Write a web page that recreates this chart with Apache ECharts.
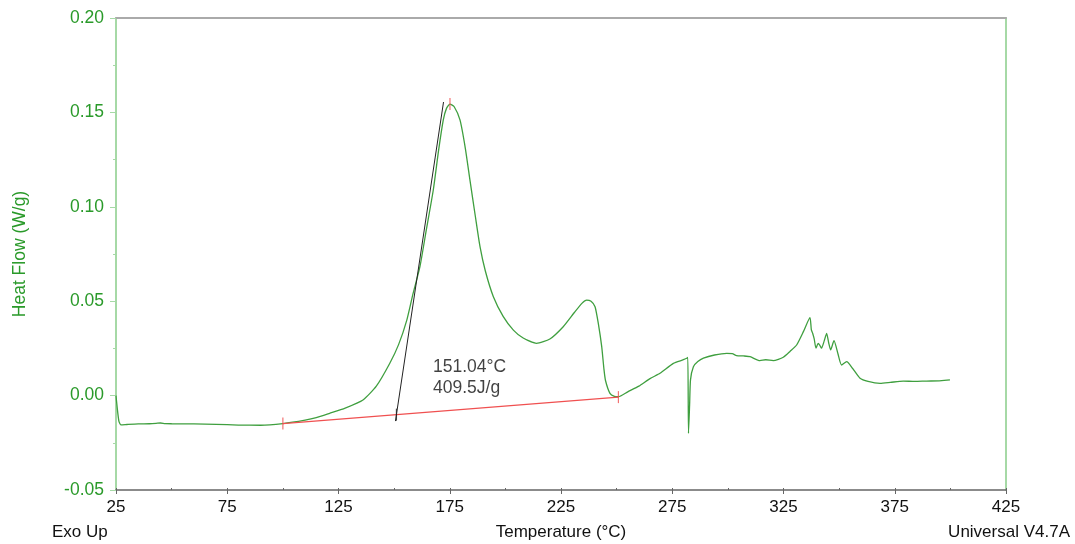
<!DOCTYPE html>
<html>
<head>
<meta charset="utf-8">
<script src="https://cdn.jsdelivr.net/npm/echarts@6/dist/echarts.min.js"></script>
<style>html,body{margin:0;padding:0;background:#fff}#c{width:1075px;height:544px}</style>
</head>
<body>
<div id="c"></div>
<script>
// Temperature (°C) / Heat flow (W/g) pairs
var temps = [25,25.5,26.3,27.2,30,35,40,43,45,47,50,60,70,80,90,100,110,115,121,128,136,142,148,152,155.7,158.5,161.6,164.5,167.6,170,172.1,173.5,175.1,177,179.6,182,184.1,186.5,188.6,191,194.6,199,203.6,208,214,220,226,231,234.5,236.5,238.5,240.3,241.8,243.3,244.3,245,247,249,250.8,255,260,265,269.5,275.5,280,281.5,282,282.3,282.8,283.2,284.5,286.5,289,294,299.5,302,303.9,307,310,314.4,317,320.4,324.9,328,330.9,334,336.9,337.5,338.1,338.8,339.6,340.6,341.4,342.1,343.3,344.4,345.3,346.2,347.7,349.5,351.1,353.4,356,359.4,363,368.4,373,378.8,384,389.3,395,399.8];
var heatFlow = [0.000,-0.006,-0.0135,-0.0155,-0.0153,-0.0150,-0.0149,-0.0147,-0.0145,-0.0148,-0.0149,-0.0150,-0.0152,-0.0156,-0.0157,-0.0148,-0.0130,-0.0117,-0.0094,-0.0066,-0.0023,0.0050,0.0170,0.0270,0.0400,0.0540,0.0683,0.0880,0.1089,0.1300,0.1460,0.1520,0.1544,0.1530,0.1460,0.1310,0.1140,0.0950,0.0789,0.0660,0.0524,0.0420,0.0347,0.0305,0.0277,0.0300,0.0365,0.0440,0.0490,0.0506,0.0500,0.0471,0.0380,0.0259,0.0140,0.0080,0.0012,-0.0004,-0.0006,0.0020,0.0050,0.0090,0.0118,0.0171,0.0190,0.0198,0.0202,-0.0200,-0.0050,0.0083,0.0153,0.0180,0.0198,0.0215,0.0224,0.0222,0.0212,0.0210,0.0206,0.0185,0.0190,0.0185,0.0203,0.0235,0.0268,0.0340,0.0413,0.0350,0.0330,0.0300,0.0251,0.0277,0.0265,0.0251,0.0290,0.0330,0.0280,0.0242,0.0291,0.0220,0.0162,0.0180,0.0145,0.0092,0.0075,0.0065,0.0070,0.0077,0.0075,0.0077,0.0078,0.0083];
var baselinePts = [[100,-0.0148],[250.8,-0.0008]];
var tangentPts = [[150.6,-0.0135],[172.2,0.1555]];
var redTicks = [[100,-0.0148],[250.8,-0.0008],[175.1,0.1544]];
var onsetTick = [[151.04,-0.0101]];
var annotation = {pos:[167.5,0.0095], text:'151.04°C\n409.5J/g'};
var xTicks = {min:25, max:425, step:25};
var yTicks = {min:-0.05, max:0.20, step:0.05};

var curve = temps.map(function(t,i){return [t, heatFlow[i]];});
var green = '#2a9a2a';
var FONT = 'Liberation Sans, Arial';
var chart = echarts.init(document.getElementById('c'), null, {renderer:'canvas'});
chart.setOption({
  animation:false,
  backgroundColor:'#fff',
  grid:{left:116, right:69, top:18, bottom:54, containLabel:false, outerBoundsMode:'none'},
  xAxis:[{
    type:'value', min:xTicks.min, max:xTicks.max, interval:xTicks.step*2,
    axisLine:{onZero:false, lineStyle:{color:'#666', width:1.5}},
    axisTick:{show:true, length:4, lineStyle:{color:'#666'}},
    splitLine:{show:false},
    axisLabel:{margin:9, color:'#111', fontFamily:FONT, fontSize:17},
    name:'Temperature (°C)', nameLocation:'middle', nameGap:34,
    nameTextStyle:{color:'#111', fontFamily:FONT, fontSize:17}
  },{
    type:'value', min:xTicks.min, max:xTicks.max, interval:xTicks.step, position:'bottom',
    axisLine:{show:false, onZero:false}, axisLabel:{show:false}, splitLine:{show:false},
    axisTick:{show:true, inside:true, length:2, lineStyle:{color:'#666'}}
  },{
    type:'value', min:xTicks.min, max:xTicks.max, position:'top',
    axisLine:{show:true, onZero:false, lineStyle:{color:'#aaa', width:2}},
    axisLabel:{show:false}, axisTick:{show:false}, splitLine:{show:false}
  }],
  yAxis:[{
    type:'value', min:yTicks.min, max:yTicks.max, interval:yTicks.step,
    axisLine:{show:true, onZero:false, lineStyle:{color:'#a6d9a6', width:2}},
    axisTick:{show:true, length:6, lineStyle:{color:'#a6d9a6'}},
    minorTick:{show:true, splitNumber:2, length:3, lineStyle:{color:'#a6d9a6'}},
    splitLine:{show:false},
    axisLabel:{margin:12, color:green, fontFamily:FONT, fontSize:17.5,
      formatter:function(v){return v.toFixed(2);}},
    name:'Heat Flow (W/g)', nameLocation:'middle', nameGap:87,
    nameTextStyle:{color:green, fontFamily:FONT, fontSize:17.5}
  },{
    type:'value', min:yTicks.min, max:yTicks.max, interval:yTicks.step, position:'right',
    axisLine:{show:true, onZero:false, lineStyle:{color:'#a6d9a6', width:2}},
    axisTick:{show:false}, axisLabel:{show:false}, splitLine:{show:false}
  }],
  graphic:[
    {type:'text', left:52, top:524, style:{text:'Exo Up', fill:'#111', font:'17px "Liberation Sans", Arial'}},
    {type:'text', right:5, top:524, style:{text:'Universal V4.7A', fill:'#111', font:'17px "Liberation Sans", Arial'}}
  ],
  series:[
    {type:'line', data:curve, showSymbol:false, symbol:'none', smooth:0.2,
      lineStyle:{color:'#3f9f3f', width:1.3}, z:3},
    {type:'line', data:baselinePts, showSymbol:false, symbol:'none', lineStyle:{color:'#f05050', width:1.2}, z:4},
    {type:'line', data:tangentPts, showSymbol:false, symbol:'none', lineStyle:{color:'#222', width:1}, z:4},
    {type:'scatter', data:redTicks, symbol:'rect', symbolSize:[1.2,12], itemStyle:{color:'#f05050'}, z:5},
    {type:'scatter', data:onsetTick, symbol:'rect', symbolSize:[1.2,12], itemStyle:{color:'#222'}, z:5},
    {type:'scatter', data:[annotation.pos], symbolSize:0, z:6,
      label:{show:true, position:'right', distance:0, formatter:annotation.text, color:'#111',
        fontFamily:FONT, fontSize:17.5, lineHeight:21, align:'left'}}
  ]
});
</script>
</body>
</html>
